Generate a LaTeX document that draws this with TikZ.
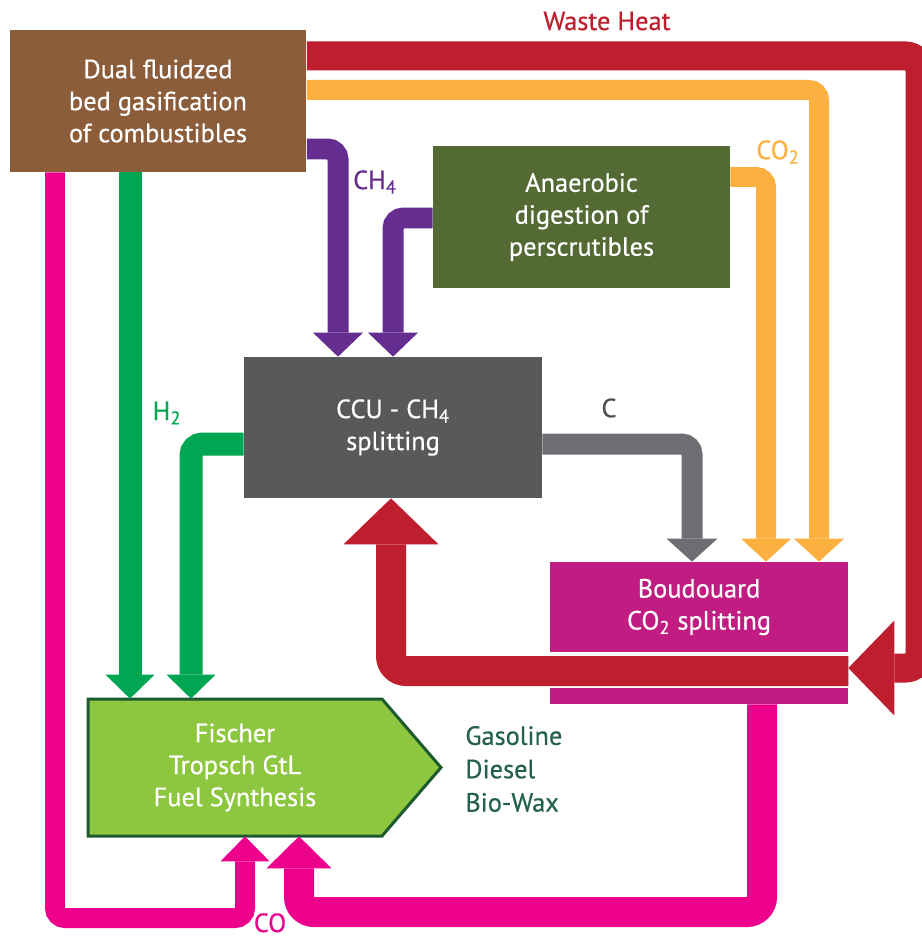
\documentclass[tikz,border=0pt]{standalone}
\usepackage{fontspec}
\setmainfont{PT Sans}
\usetikzlibrary{arrows.meta}
\definecolor{heatred}{HTML}{BE1E2D}
\definecolor{cotwoorange}{HTML}{FBB040}
\definecolor{methanepurple}{HTML}{662D91}
\definecolor{hydrogreen}{HTML}{00A651}
\definecolor{carbongray}{HTML}{6D6E71}
\definecolor{copink}{HTML}{EC008C}
\definecolor{gasifbrown}{HTML}{8B5D3B}
\definecolor{anaerolive}{HTML}{536A35}
\definecolor{ccugray}{HTML}{58595B}
\definecolor{boudmagenta}{HTML}{C01C82}
\definecolor{ftlime}{HTML}{8DC63F}
\definecolor{ftdark}{HTML}{1D5A2E}
\definecolor{producttext}{HTML}{24614A}
\newcommand{\diagfont}{\fontsize{15}{18.2}\selectfont\addfontfeatures{FakeBold=0.5}}
\begin{document}
\begin{tikzpicture}[
x=0.02cm, y=-0.02cm,
box/.style={fill=#1, text=white, align=center, inner sep=0pt, font=\diagfont,
  minimum width=5.94cm, minimum height=2.84cm},
label/.style={text=#1, font=\diagfont, inner sep=0pt},
flow/.style={line width=#1, rounded corners=0.5*#1},
heat/.style={draw=heatred, flow=0.58cm, -{Triangle[width=1.9cm, length=0.92cm, line width=0pt]}},
heatback/.style={draw=heatred, flow=0.6cm, -{Triangle[width=1.9cm, length=0.92cm, line width=0pt]}},
cotwo/.style={draw=cotwoorange, flow=0.4cm, -{Triangle[width=1cm, length=0.46cm, line width=0pt]}},
methane/.style={draw=methanepurple, flow=0.42cm, -{Triangle[width=1cm, length=0.48cm, line width=0pt]}},
hydro/.style={draw=hydrogreen, flow=0.46cm, -{Triangle[width=0.98cm, length=0.48cm, line width=0pt]}},
carbon/.style={draw=carbongray, flow=0.42cm, -{Triangle[width=1.02cm, length=0.46cm, line width=0pt]}},
coright/.style={draw=copink, flow=0.6cm, -{Triangle[width=1.3cm, length=0.64cm, line width=0pt]}},
coleft/.style={draw=copink, flow=0.4cm, -{Triangle[width=0.98cm, length=0.5cm, line width=0pt]}}
]
\useasboundingbox (0,0) rectangle (922,939);

\node[box=gasifbrown] (gasif) at (158,101) {Dual fluidzed\\bed gasification\\of combustibles};
\node[box=anaerolive] (anaer) at (581.5,217) {Anaerobic\\digestion of\\perscrutibles};
\node[box=ccugray, minimum width=5.96cm, minimum height=2.82cm] (ccu) at (393,427.5) {CCU - CH\textsubscript{4}\\splitting};
\node[box=boudmagenta, minimum width=5.96cm, minimum height=1.8cm] (boud) at (699,607) {Boudouard\\CO\textsubscript{2} splitting};
\node[box=boudmagenta, minimum width=5.96cm, minimum height=0.32cm] (boudbar) at (699,696) {};

\filldraw[fill=ftlime, draw=ftdark, line width=0.06cm] (88,699) -- (382,699) -- (441,767.5) -- (382,836) -- (88,836) -- cycle;
\node[label=white, align=center, minimum width=5.88cm, minimum height=2.74cm] (ft) at (235,767.5) {Fischer\\Tropsch GtL\\Fuel Synthesis};
\node[label=producttext, align=left, anchor=west, font=\fontsize{15}{19}\selectfont\addfontfeatures{FakeBold=0.5}] (products) at (465,769) {Gasoline\\Diesel\\Bio-Wax};

\draw[heat] (gasif.east |- 0,56) -- (920,56) -- (920,668) -- (boud.east |- 0,668);
\draw[heatback] (boud.east |- 0,671) -| (391,0 |- ccu.south);
\draw[cotwo] (gasif.east |- 0,90) -| (819,0 |- boud.north);
\draw[cotwo] (anaer.east |- 0,177) -| (766,0 |- boud.north);
\draw[methane] (gasif.east |- 0,149) -| (338,0 |- ccu.north);
\draw[methane] (anaer.west |- 0,218) -| (393,0 |- ccu.north);
\draw[hydro] (130,0 |- gasif.south) -- (130,0 |- ft.north);
\draw[hydro] (ccu.west |- 0,444) -| (191,0 |- ft.north);
\draw[carbon] (ccu.east |- 0,444) -| (692,0 |- boud.north);
\draw[coright] (762,0 |- boudbar.south) |- (299,912) -- (299,0 |- ft.south);
\draw[coleft] (55,0 |- gasif.south) |- (245,918) -- (245,0 |- ft.south);

\node[label=heatred] (lblheat) at (607,21) {Waste Heat};
\node[label=methanepurple] (lblch4) at (375,182) {CH\textsubscript{4}};
\node[label=cotwoorange] (lblco2) at (778,152) {CO\textsubscript{2}};
\node[label=hydrogreen] (lblh2) at (167,413) {H\textsubscript{2}};
\node[label=carbongray!70!black] (lblc) at (609,408) {C};
\node[label=copink, anchor=base] (lblco) at (270,932) {CO};
\end{tikzpicture}
\end{document}
